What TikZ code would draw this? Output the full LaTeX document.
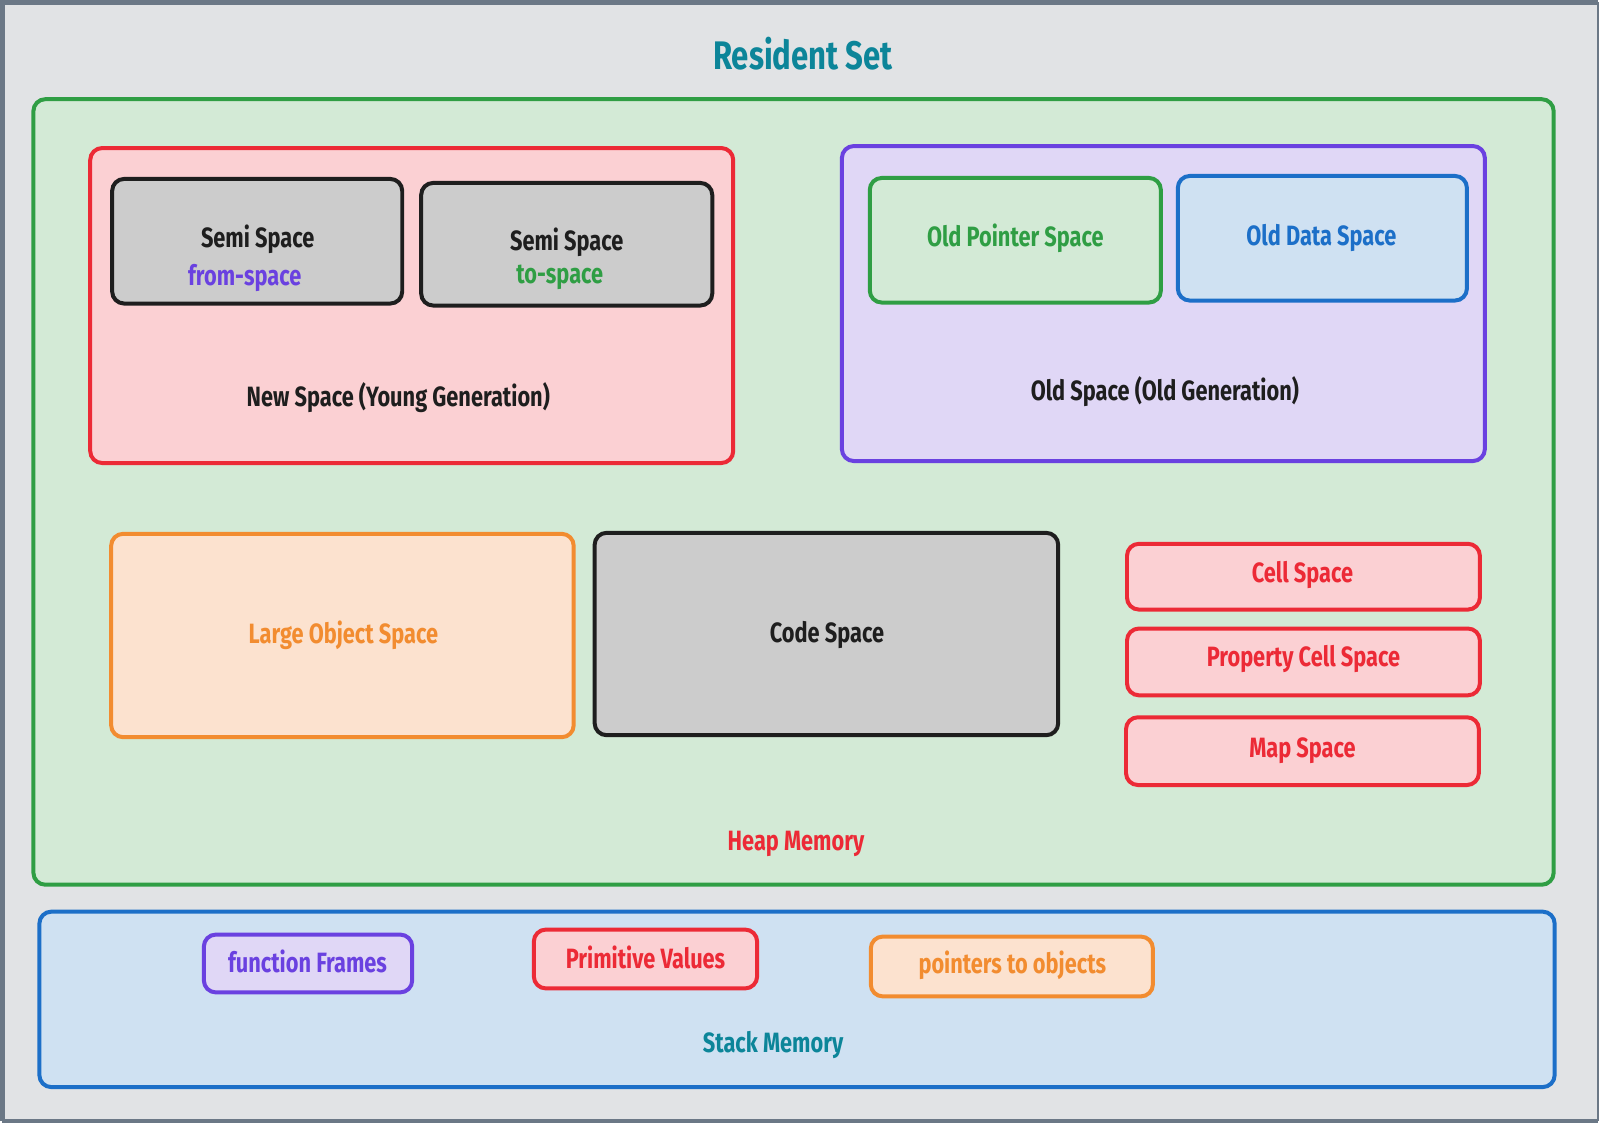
\documentclass[tikz,border=0pt]{standalone}
\usepackage{fontspec}
\setmainfont{Fira Sans}[FakeStretch=0.78]
\usepackage{tikz}
\usetikzlibrary{positioning}
\usepackage{xcolor}

\definecolor{bgcol}{HTML}{E1E3E5}
\definecolor{framecol}{HTML}{6B7886}
\definecolor{grnline}{HTML}{2F9E44}
\definecolor{grnfill}{HTML}{D3EAD6}
\definecolor{redline}{HTML}{EC2A36}
\definecolor{redfill}{HTML}{FBD0D3}
\definecolor{purline}{HTML}{6A41E0}
\definecolor{purfill}{HTML}{E0D7F6}
\definecolor{bluline}{HTML}{1C6FC8}
\definecolor{blufill}{HTML}{CFE1F2}
\definecolor{orgline}{HTML}{F28C30}
\definecolor{orgfill}{HTML}{FCE2CF}
\definecolor{gryfill}{HTML}{CCCCCC}
\definecolor{blkline}{HTML}{1E1E1E}
\definecolor{tealtxt}{HTML}{0C8599}

\begin{document}
\begin{tikzpicture}[x=0.5pt,y=-0.5pt,
    area/.style={draw,line width=2pt,rounded corners=6pt,inner sep=0pt},
    lbl/.style={font=\fontsize{14}{16}\selectfont\bfseries,text=blkline,inner sep=1pt,align=center}]
	% page and frame
	\fill[bgcol] (0,0) rectangle (1600,1122);
	\draw[framecol,line width=2.5pt] (0,1122) -- (0,0) -- (1600,0);
	\draw[framecol,line width=2.5pt] (0,1122) -- (1600,1122);
	\draw[framecol,line width=1pt] (1600,0) -- (1600,1122);
	\useasboundingbox (0,0) rectangle (1600,1122);

	\node[lbl,font=\fontsize{20}{22}\selectfont\bfseries,text=tealtxt] (rset) at (803,51) {Resident Set};

	% heap
	\draw (793.5,491) node[area,draw=grnline,fill=grnfill,minimum width=762.5pt,minimum height=394pt] (heap){}
		(410.5,304) node[area,draw=redline,fill=redfill,minimum width=322.5pt,minimum height=158pt] (newsp){}
		(255.5,239.5) node[area,draw=blkline,fill=gryfill,minimum width=145.5pt,minimum height=62.5pt] (semia){}
		(566,242.5) node[area,draw=blkline,fill=gryfill,minimum width=146pt,minimum height=61.5pt] (semib){}
		(1164.5,302) node[area,draw=purline,fill=purfill,minimum width=322.5pt,minimum height=158pt] (oldsp){}
		(1016,238.5) node[area,draw=grnline,fill=grnfill,minimum width=146pt,minimum height=62.5pt] (oldptr){}
		(1324,236.5) node[area,draw=bluline,fill=blufill,minimum width=145pt,minimum height=62.5pt] (olddata){}
		(341,635) node[area,draw=orgline,fill=orgfill,minimum width=232pt,minimum height=102pt] (lobj){}
		(826.5,633.5) node[area,draw=blkline,fill=gryfill,minimum width=232.5pt,minimum height=101.5pt] (code){}
		(1305,576) node[area,draw=redline,fill=redfill,minimum width=177pt,minimum height=33pt] (cell){}
		(1305,661.5) node[area,draw=redline,fill=redfill,minimum width=177pt,minimum height=33.5pt] (propcell){}
		(1304,751) node[area,draw=redline,fill=redfill,minimum width=177pt,minimum height=34pt] (map){};

	\node[lbl] (semiatxt) at (256,238) {Semi Space};
	\node[lbl,text=purline] (from) at (243,276) {from-space};
	\node[lbl] (semibtxt) at (566,241) {Semi Space};
	\node[lbl,text=grnline] (to) at (559,276) {to-space};
	\node[lbl] (newtxt) at (397,396) {New Space (Young Generation)};
	\node[lbl,text=grnline] (oldptrtxt) at (1016,237) {Old Pointer Space};
	\node[lbl,text=bluline] (olddatatxt) at (1323,236) {Old Data Space};
	\node[lbl] (oldtxt) at (1166,390) {Old Space (Old Generation)};
	\node[lbl,text=orgline] (lobjtxt) at (342,635) {Large Object Space};
	\node[lbl] (codetxt) at (827,634) {Code Space};
	\node[lbl,text=redline] (celltxt) at (1304,574) {Cell Space};
	\node[lbl,text=redline] (propcelltxt) at (1305,659) {Property Cell Space};
	\node[lbl,text=redline] (maptxt) at (1304,751) {Map Space};
	\node[lbl,text=redline] (heaptxt) at (796,844) {Heap Memory};

	% stack
	\draw (797,1000) node[area,draw=bluline,fill=blufill,minimum width=760pt,minimum height=88pt] (stack){}
		(306.5,964) node[area,draw=purline,fill=purfill,minimum width=104.5pt,minimum height=29pt] (frames){}
		(645,959.5) node[area,draw=redline,fill=redfill,minimum width=112pt,minimum height=29.5pt] (prims){}
		(1012.5,967) node[area,draw=orgline,fill=orgfill,minimum width=141.5pt,minimum height=30pt] (ptrs){};

	\node[lbl,text=purline] (framestxt) at (306,962) {function Frames};
	\node[lbl,text=redline] (primstxt) at (645,958) {Primitive Values};
	\node[lbl,text=orgline] (ptrstxt) at (1013,966) {pointers to objects};
	\node[lbl,text=tealtxt] (stacktxt) at (773,1046) {Stack Memory};
\end{tikzpicture}
\end{document}
